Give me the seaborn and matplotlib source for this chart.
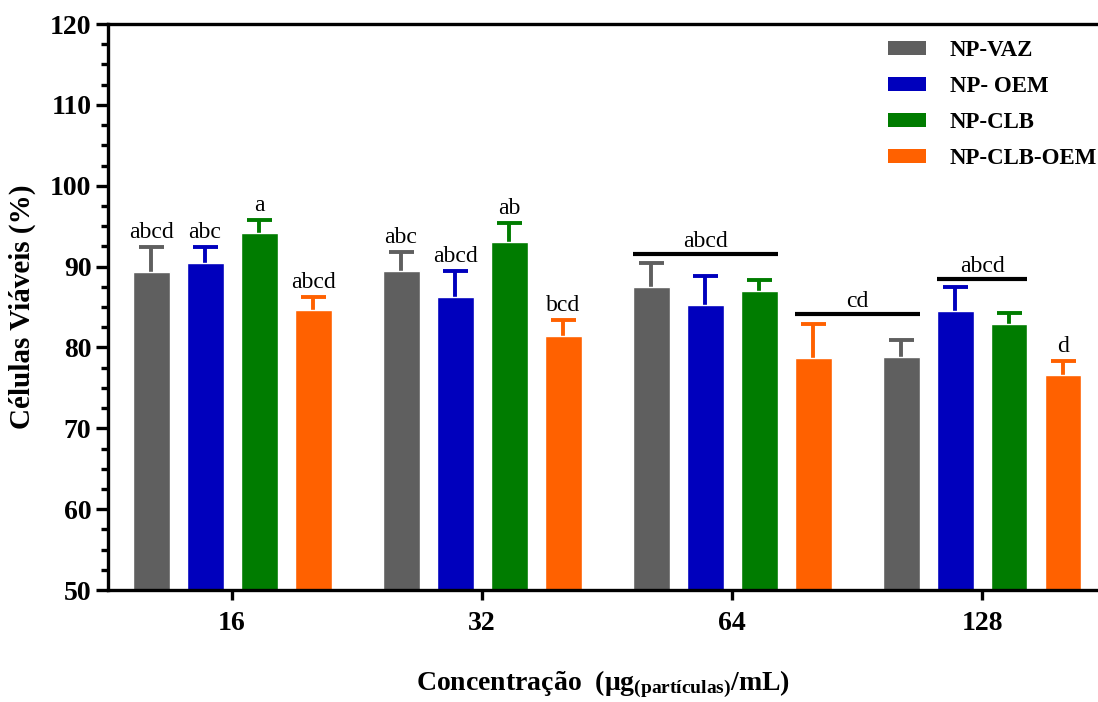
import numpy as np
import pandas as pd
import matplotlib
matplotlib.use("Agg")
import matplotlib.pyplot as plt
from matplotlib.patches import Patch
from matplotlib.ticker import MultipleLocator
import seaborn as sns

# Data
concentrations = ["16", "32", "64", "128"]
groups = ["NP-VAZ", "NP- OEM", "NP-CLB", "NP-CLB-OEM"]
colors = ["#5f5f5f", "#0000bd", "#007c00", "#ff6100"]

vaz = [89.3, 89.5, 87.5, 78.8]
oem = [90.4, 86.3, 85.2, 84.5]
clb = [94.2, 93.1, 87.0, 82.9]
clb_oem = [84.6, 81.4, 78.7, 76.6]

vaz_err = [3.1, 2.3, 3.0, 2.1]
oem_err = [2.0, 3.1, 3.6, 3.0]
clb_err = [1.5, 2.3, 1.4, 1.4]
clb_oem_err = [1.6, 2.0, 4.2, 1.7]

# Significance letters per bar (empty where a bracket carries the letters)
vaz_sig = ["abcd", "abc", "", ""]
oem_sig = ["abc", "abcd", "", ""]
clb_sig = ["a", "ab", "", ""]
clb_oem_sig = ["abcd", "bcd", "", "d"]

# Brackets: (concentration, group) start, (concentration, group) end, height, letters
bracket_start = [(2, 0), (2, 3), (3, 1)]
bracket_end = [(2, 2), (3, 0), (3, 2)]
bracket_y = [91.5, 84.1, 88.5]
bracket_text = ["abcd", "cd", "abcd"]

means = [vaz, oem, clb, clb_oem]
errs = [vaz_err, oem_err, clb_err, clb_oem_err]
sigs = [vaz_sig, oem_sig, clb_sig, clb_oem_sig]

df = pd.DataFrame({
    "conc": np.repeat([concentrations], len(groups), axis=0).ravel(),
    "group": np.repeat(groups, len(concentrations)),
    "value": np.concatenate(means),
})

sns.set_style("ticks", {"axes.edgecolor": "black", "text.color": "black",
                        "xtick.color": "black", "ytick.color": "black",
                        "axes.labelcolor": "black"})
plt.rcParams["font.family"] = ["Liberation Serif", "DejaVu Serif"]
plt.rcParams["mathtext.fontset"] = "custom"
plt.rcParams["mathtext.rm"] = "Liberation Serif:bold"
plt.rcParams["mathtext.bf"] = "Liberation Serif:bold"
plt.rcParams["mathtext.it"] = "Liberation Serif:bold"

fig = plt.figure(figsize=(10.98, 7.02), dpi=100)
ax = fig.add_axes([0.0984, 0.1595, 0.9016, 0.8063])

sns.barplot(data=df, x="conc", y="value", hue="group", order=concentrations,
            hue_order=groups, palette=colors, errorbar=None, width=0.864,
            gap=0.315, saturation=1, legend=False, ax=ax, zorder=2)

# Locate bar centres by group (patches come in hue order)
bars = [p for p in ax.patches if p.get_height() > 0]
centers = {}
k = 0
for gi in range(len(groups)):
    for ci in range(len(concentrations)):
        p = bars[k]
        centers[(ci, gi)] = (p.get_x() + p.get_width() / 2, p.get_width())
        k += 1

for gi in range(len(groups)):
    for ci in range(len(concentrations)):
        xc, w = centers[(ci, gi)]
        m = means[gi][ci]
        e = errs[gi][ci]
        _, caps, _ = ax.errorbar(xc, m, yerr=[[0], [e]], fmt="none",
                                 ecolor=colors[gi], elinewidth=2.8,
                                 capsize=9, capthick=2.8, zorder=1)
        caps[0].set_visible(False)
        if sigs[gi][ci]:
            ax.annotate(sigs[gi][ci], (xc, m + e), xytext=(0, 3),
                        textcoords="offset points", ha="center", va="bottom",
                        fontsize=17)

for s, e, y, t in zip(bracket_start, bracket_end, bracket_y, bracket_text):
    x0 = centers[s][0] - centers[s][1] / 2
    x1 = centers[e][0] + centers[e][1] / 2
    ax.plot([x0, x1], [y, y], color="black", lw=3, solid_capstyle="butt",
            zorder=3)
    ax.text((x0 + x1) / 2, y + 0.25, t, ha="center", va="bottom", fontsize=17)

ax.set_ylim(50, 120)
ax.set_xlim(-0.496, 3.464)
ax.yaxis.set_major_locator(MultipleLocator(10))
ax.yaxis.set_minor_locator(MultipleLocator(2.5))

for side in ["left", "top", "bottom"]:
    ax.spines[side].set_linewidth(2.4)
    ax.spines[side].set_color("black")
ax.spines["right"].set_visible(False)

ax.tick_params(axis="y", which="major", length=9, width=2.4, labelsize=20,
               pad=3, direction="out")
ax.tick_params(axis="y", which="minor", length=5, width=2.4, direction="out")
ax.tick_params(axis="x", which="major", length=7, width=2.4, labelsize=20,
               pad=8, direction="out")
for lbl in ax.get_xticklabels() + ax.get_yticklabels():
    lbl.set_fontweight("bold")

ax.set_xlabel("Concentração  (μg$_{\\mathregular{(partículas)}}$/mL)",
              fontsize=20, fontweight="bold", labelpad=23)
ax.set_ylabel("Células Viáveis (%)", fontsize=21, fontweight="bold",
              labelpad=10)

handles = [Patch(facecolor=c, edgecolor="none") for c in colors]
ax.legend(handles, groups, loc="upper right", bbox_to_anchor=(1.02, 1.008),
          frameon=False, prop={"weight": "bold", "size": 16.5},
          handlelength=1.65, handleheight=0.55, labelspacing=0.66,
          handletextpad=1.05)

fig.savefig("out.png", dpi=100)
